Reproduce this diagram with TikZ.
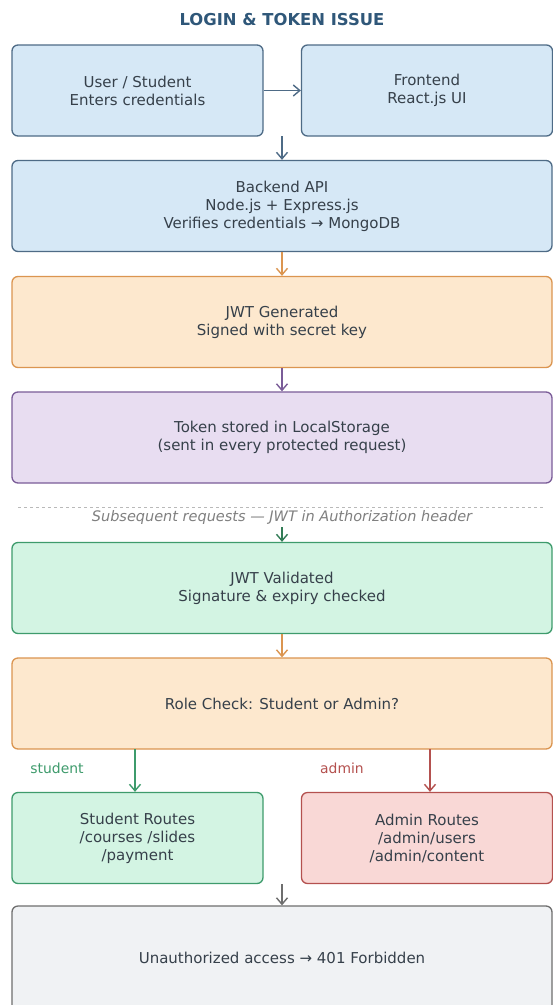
\documentclass[tikz,border=0pt]{standalone}
\usepackage{fontspec}
\setmainfont{DejaVu Sans}
\usetikzlibrary{arrows.meta}

\definecolor{bluefill}{HTML}{D6E8F6}
\definecolor{blueline}{HTML}{4E6B86}
\definecolor{orangefill}{HTML}{FDE8CE}
\definecolor{orangeline}{HTML}{DB9550}
\definecolor{purplefill}{HTML}{E8DDF1}
\definecolor{purpleline}{HTML}{7A5C98}
\definecolor{greenfill}{HTML}{D3F4E3}
\definecolor{greenline}{HTML}{3E9B6C}
\definecolor{redfill}{HTML}{F9D8D6}
\definecolor{redline}{HTML}{B4514F}
\definecolor{grayfill}{HTML}{F0F2F4}
\definecolor{grayline}{HTML}{6E6E6E}
\definecolor{titleblue}{HTML}{2F5779}
\definecolor{textdark}{HTML}{36404A}

\tikzset{
    flowbox/.style={draw, rounded corners=6pt, line width=1.3pt, align=center,
        text=textdark, font=\fontsize{15}{18}\selectfont, inner sep=0pt},
    widebox/.style={flowbox, minimum width=540pt, minimum height=91pt},
    halfbox/.style={flowbox, minimum width=251pt, minimum height=91pt},
    flow/.style={-{Straight Barb[length=6.5pt,width=11pt]}, line width=1.4pt},
}

\begin{document}
\begin{tikzpicture}[x=1pt,y=-1pt]
    \clip (0,0) rectangle (553,1005);
    \fill[white] (0,0) rectangle (553,1005);

    \node[font=\bfseries\fontsize{16.4}{18}\selectfont, text=titleblue] (title) at (282,20) {LOGIN \& TOKEN ISSUE};

    % login part
    \node[halfbox, fill=bluefill, draw=blueline] (user) at (137.5,90.5) {User / Student\\Enters credentials};
    \node[halfbox, fill=bluefill, draw=blueline] (frontend) at (427,90.5) {Frontend\\React.js UI};
    \node[widebox, fill=bluefill, draw=blueline] (backend) at (282,206) {Backend API\\Node.js + Express.js\\Verifies credentials → MongoDB};
    \node[widebox, fill=orangefill, draw=orangeline] (jwtgen) at (282,322) {JWT Generated\\Signed with secret key};
    \node[widebox, fill=purplefill, draw=purpleline] (storage) at (282,437.5) {Token stored in LocalStorage\\(sent in every protected request)};

    \draw[flow, blueline] (user.east) -- (frontend.west);
    \coordinate (loginout) at (282,136);
    \draw[flow, blueline] (loginout) -- (backend.north);
    \draw[flow, orangeline] (backend.south) -- (jwtgen.north);
    \draw[flow, purpleline] (jwtgen.south) -- (storage.north);

    % later requests
    \draw[dashed, gray!55, line width=0.8pt] (18,507) -- (545,507);
    \node[font=\itshape\fontsize{14.5}{16}\selectfont, text=gray] (subreq) at (282,517) {Subsequent requests — JWT in Authorization header};

    \node[widebox, fill=greenfill, draw=greenline] (validated) at (282,588) {JWT Validated\\Signature \& expiry checked};
    \node[widebox, fill=orangefill, draw=orangeline] (rolecheck) at (282,703.5) {Role Check: Student or Admin?};
    \node[halfbox, fill=greenfill, draw=greenline] (studentroutes) at (137.5,838) {Student Routes\\/courses /slides\\/payment};
    \node[halfbox, fill=redfill, draw=redline] (adminroutes) at (427,838) {Admin Routes\\/admin/users\\/admin/content};
    \node[widebox, fill=grayfill, draw=grayline, minimum height=110pt] (unauth) at (282,961) {\raisebox{6pt}{Unauthorized access → 401 Forbidden}};

    \coordinate (reqin) at (282,527);
    \draw[flow, greenline!80!black] (reqin) -- (validated.north);
    \draw[flow, orangeline] (validated.south) -- (rolecheck.north);

    \coordinate (studentfork) at (135,749);
    \coordinate (adminfork) at (430,749);
    \draw[flow, greenline] (studentfork) -- (studentfork |- studentroutes.north);
    \draw[flow, redline] (adminfork) -- (adminfork |- adminroutes.north);
    \node[font=\fontsize{13.9}{16}\selectfont, text=greenline] (studentlbl) at (57,768) {student};
    \node[font=\fontsize{13.9}{16}\selectfont, text=redline] (adminlbl) at (342,768) {admin};

    \coordinate (routesout) at (282,884);
    \draw[flow, grayline] (routesout) -- (unauth.north);
\end{tikzpicture}
\end{document}
